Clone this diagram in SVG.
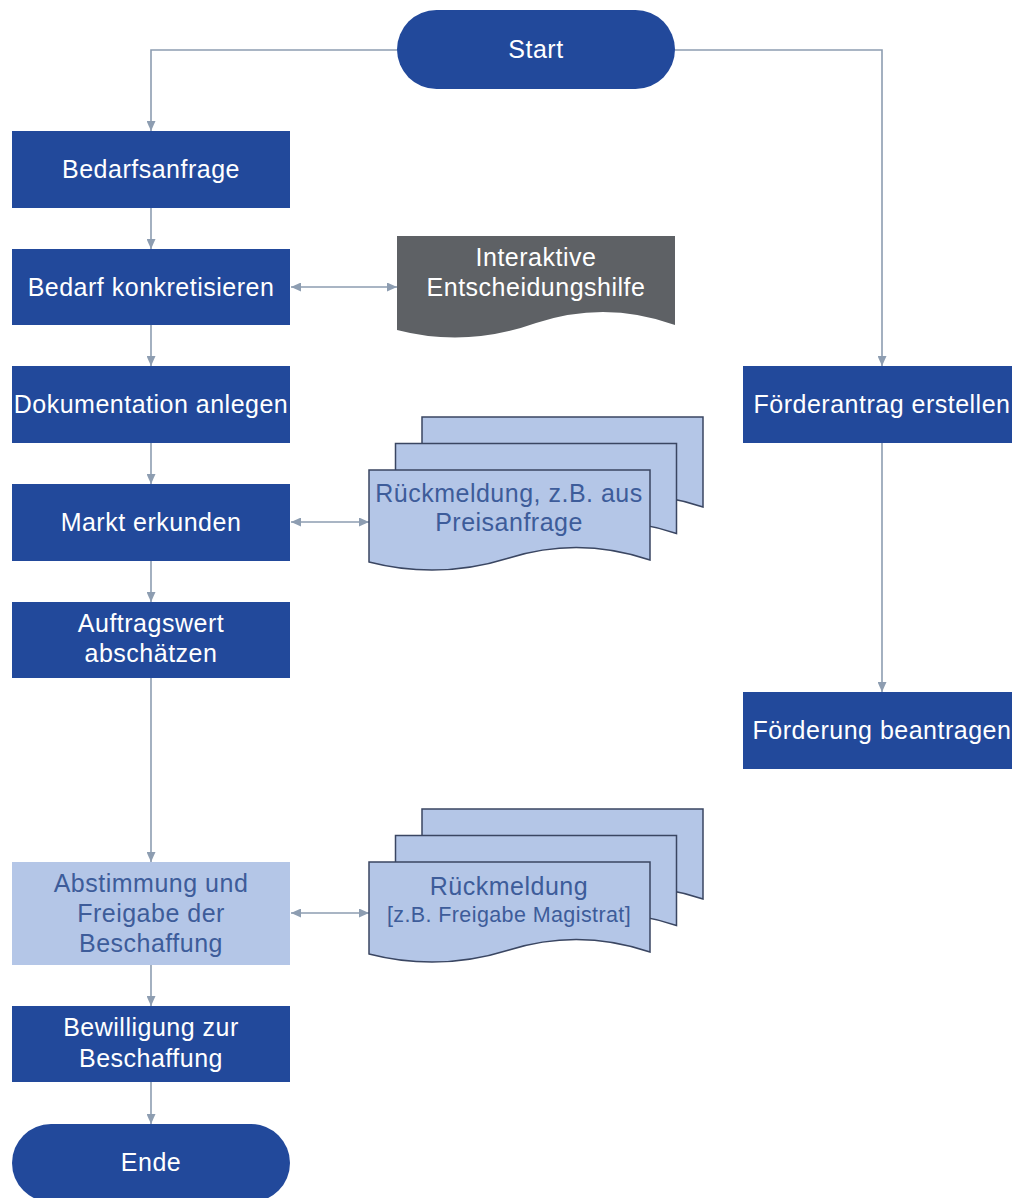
<svg xmlns="http://www.w3.org/2000/svg" width="1012" height="1198" viewBox="0 0 1012 1198">
<style>
.dark{fill:#22499b}
.light{fill:#b4c6e7}
.t{font-family:"Liberation Sans",Arial,sans-serif;font-size:25px;letter-spacing:0.5px;fill:#ffffff;text-anchor:middle}
.tb{font-family:"Liberation Sans",Arial,sans-serif;font-size:25px;letter-spacing:0.5px;fill:#3d5c9a;text-anchor:middle}
.doc{fill:#b4c6e7;stroke:#3a4662;stroke-width:1.5}
.con{fill:none;stroke:#8d9db1;stroke-width:1.6}
</style>
<defs>
<marker id="ah" viewBox="0 0 10 9" refX="10" refY="4.5" markerWidth="10" markerHeight="9" markerUnits="userSpaceOnUse" orient="auto-start-reverse">
<path d="M0,0 L10,4.5 L0,9 z" fill="#8d9db1"/>
</marker>
<path id="docshape" d="M369,470 H650 V560 Q579,536 509,558 Q439,580 369,562 Z"/>
</defs>
<rect width="1012" height="1198" fill="#ffffff"/>

<g id="connectors">
<path class="con" d="M397,50 H151 V131" marker-end="url(#ah)"/>
<path class="con" d="M675,50 H882 V366" marker-end="url(#ah)"/>
<path class="con" d="M151,208 V249" marker-end="url(#ah)"/>
<path class="con" d="M151,325 V366" marker-end="url(#ah)"/>
<path class="con" d="M151,443 V484" marker-end="url(#ah)"/>
<path class="con" d="M151,561 V602" marker-end="url(#ah)"/>
<path class="con" d="M151,678 V862" marker-end="url(#ah)"/>
<path class="con" d="M151,965 V1006" marker-end="url(#ah)"/>
<path class="con" d="M151,1082 V1124" marker-end="url(#ah)"/>
<path class="con" d="M882,443 V692" marker-end="url(#ah)"/>
<path class="con" d="M291,287 H397" marker-start="url(#ah)" marker-end="url(#ah)"/>
<path class="con" d="M291,522 H369" marker-start="url(#ah)" marker-end="url(#ah)"/>
<path class="con" d="M291,913 H369" marker-start="url(#ah)" marker-end="url(#ah)"/>
</g>

<g id="start">
<rect class="dark" x="397" y="10" width="278" height="79" rx="39.5"/>
<text class="t" x="536" y="58">Start</text>
</g>

<g id="bedarfsanfrage">
<rect class="dark" x="12" y="131" width="278" height="77"/>
<text class="t" x="151" y="178">Bedarfsanfrage</text>
</g>

<g id="bedarf-konkretisieren">
<rect class="dark" x="12" y="249" width="278" height="76"/>
<text class="t" x="151" y="296">Bedarf konkretisieren</text>
</g>

<g id="entscheidungshilfe">
<path d="M397,236 H675 V325 Q606,300 536,323 Q466,348 397,330 Z" fill="#5e6165"/>
<text class="t" x="536" y="266">Interaktive</text>
<text class="t" x="536" y="296">Entscheidungshilfe</text>
</g>

<g id="dokumentation">
<rect class="dark" x="12" y="366" width="278" height="77"/>
<text class="t" x="151" y="413">Dokumentation anlegen</text>
</g>

<g id="markt">
<rect class="dark" x="12" y="484" width="278" height="77"/>
<text class="t" x="151" y="531">Markt erkunden</text>
</g>

<g id="rueckmeldung-preis">
<use href="#docshape" class="doc" transform="translate(53,-53)"/>
<use href="#docshape" class="doc" transform="translate(26.5,-26.5)"/>
<use href="#docshape" class="doc"/>
<text class="tb" x="509" y="502">Rückmeldung, z.B. aus</text>
<text class="tb" x="509" y="531">Preisanfrage</text>
</g>

<g id="auftragswert">
<rect class="dark" x="12" y="602" width="278" height="76"/>
<text class="t" x="151" y="632">Auftragswert</text>
<text class="t" x="151" y="662">abschätzen</text>
</g>

<g id="abstimmung">
<rect class="light" x="12" y="862" width="278" height="103"/>
<text class="tb" x="151" y="892">Abstimmung und</text>
<text class="tb" x="151" y="922">Freigabe der</text>
<text class="tb" x="151" y="952">Beschaffung</text>
</g>

<g id="rueckmeldung-freigabe">
<g transform="translate(0,392)">
<use href="#docshape" class="doc" transform="translate(53,-53)"/>
<use href="#docshape" class="doc" transform="translate(26.5,-26.5)"/>
<use href="#docshape" class="doc"/>
</g>
<text class="tb" x="509" y="895">Rückmeldung</text>
<text class="tb" x="509" y="922" style="font-size:21.5px;letter-spacing:0.4px">[z.B. Freigabe Magistrat]</text>
</g>

<g id="bewilligung">
<rect class="dark" x="12" y="1006" width="278" height="76"/>
<text class="t" x="151" y="1036">Bewilligung zur</text>
<text class="t" x="151" y="1067">Beschaffung</text>
</g>

<g id="ende">
<rect class="dark" x="12" y="1124" width="278" height="78" rx="39"/>
<text class="t" x="151" y="1171">Ende</text>
</g>

<g id="foerderantrag">
<rect class="dark" x="743" y="366" width="278" height="77"/>
<text class="t" x="882" y="413">Förderantrag erstellen</text>
</g>

<g id="foerderung">
<rect class="dark" x="743" y="692" width="278" height="77"/>
<text class="t" x="882" y="739">Förderung beantragen</text>
</g>
</svg>
